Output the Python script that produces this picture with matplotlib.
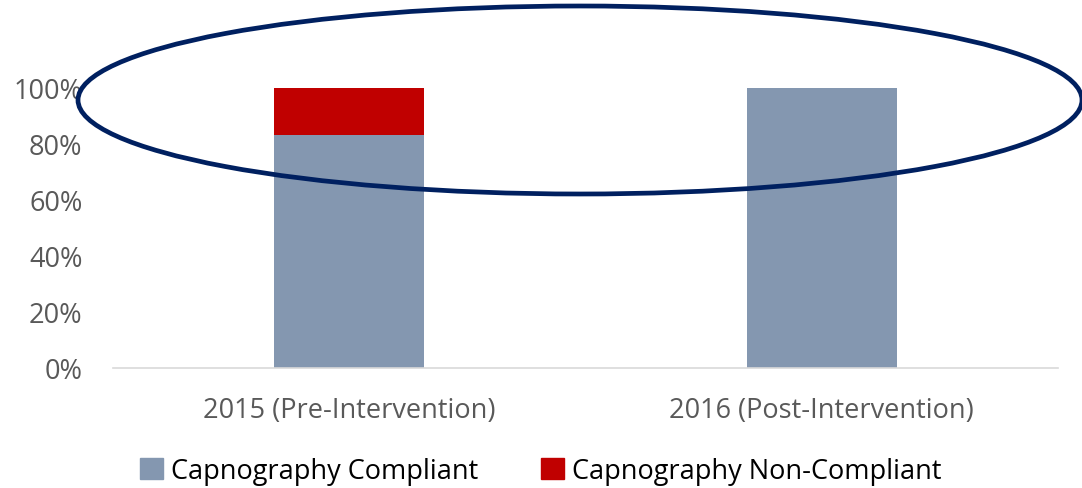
import matplotlib
matplotlib.use("Agg")
import matplotlib.pyplot as plt
from matplotlib.patches import Ellipse, Patch
from matplotlib.ticker import PercentFormatter

# data
categories = ["2015 (Pre-Intervention)", "2016 (Post-Intervention)"]
compliant = [0.83, 1.00]
non_compliant = [0.17, 0.00]
series_names = ["Capnography Compliant", "Capnography Non-Compliant"]
yticks = [0, 0.2, 0.4, 0.6, 0.8, 1.0]

plt.rcParams['font.family'] = ['Open Sans', 'DejaVu Sans']

W, H = 1082, 489
fig = plt.figure(figsize=(W / 100, H / 100), dpi=100)
ax = fig.add_axes([113 / W, 1 - 369 / H, (1058 - 113) / W, (369 - 88.5) / H])

x = range(len(categories))
ax.bar(x, compliant, width=0.317, color="#8497B0", label=series_names[0])
ax.bar(x, non_compliant, width=0.317, bottom=compliant, color="#C00000", label=series_names[1])

ax.set_xlim(-0.5, 1.5)
ax.set_ylim(0, 1.0)
ax.set_yticks(yticks)
ax.yaxis.set_major_formatter(PercentFormatter(1.0, decimals=0))
ax.set_xticks(list(x))
ax.set_xticklabels(categories)

for s in ["top", "right", "left"]:
    ax.spines[s].set_visible(False)
ax.spines["bottom"].set_color("#D9D9D9")
ax.spines["bottom"].set_linewidth(1.2)
ax.tick_params(axis="both", length=0, labelsize=19.5, labelcolor="#595959")
ax.tick_params(axis="y", pad=22)
ax.tick_params(axis="x", pad=20)

# legend at the bottom
handles = [Patch(color="#8497B0"), Patch(color="#C00000")]
fig.legend(handles, series_names, loc="center", bbox_to_anchor=(0.5, 1 - 472 / H),
           ncol=2, frameon=False, fontsize=19.5, handlelength=0.85, handleheight=0.85,
           handletextpad=0.3, columnspacing=2.3)

# highlight ellipse around the top of the bars
ell = Ellipse((580 / W, 1 - 101 / H), 1004 / W, 188 / H, transform=fig.transFigure,
              fill=False, edgecolor="#002060", linewidth=3.4)
fig.patches.append(ell)

fig.savefig("out.png", dpi=100)
